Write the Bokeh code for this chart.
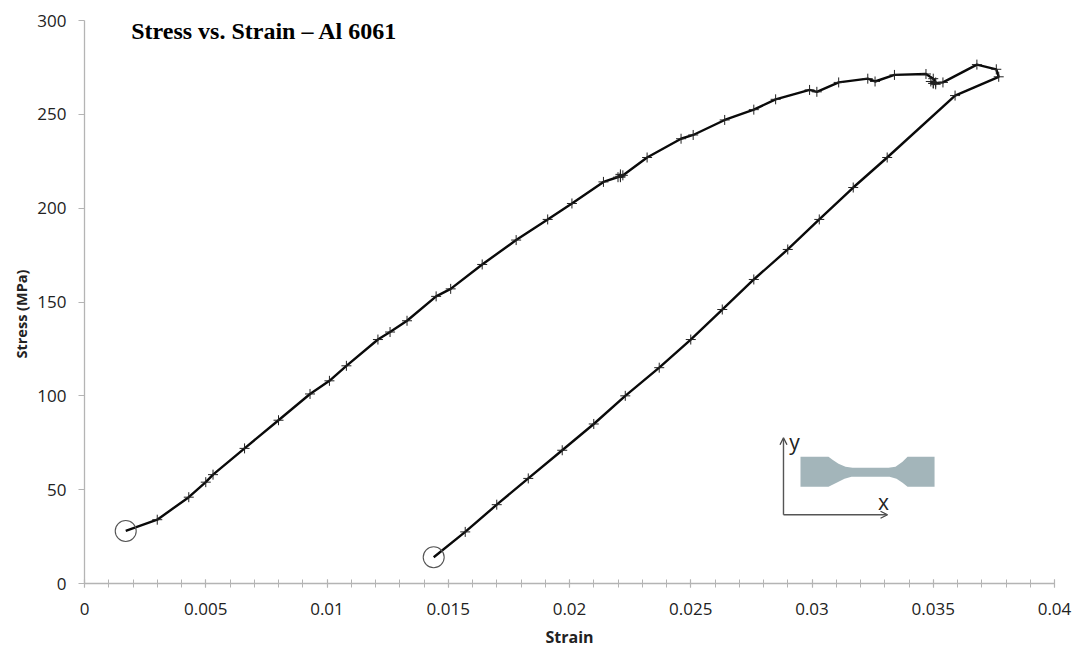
from bokeh.plotting import figure
from bokeh.embed import file_html
from bokeh.resources import INLINE
from bokeh.models import Arrow, OpenHead, Label, Range1d, FixedTicker, CustomJSTickFormatter, Title

strain = [0.0017,0.0030,0.0043,0.0050,0.0053,0.0066,0.0080,0.0093,0.0101,0.0108,0.0121,0.0126,0.0133,
          0.0145,0.0151,0.0164,0.0178,0.0191,0.0201,0.0214,0.0221,0.0221,0.0220,0.0222,0.0221,0.0232,0.0246,0.0251,
          0.0264,0.0276,0.0285,0.0299,0.0302,0.0311,0.0323,0.0326,0.0334,0.0347,0.0350,0.0351,0.0350,0.0349,0.0351,0.0350,
          0.0354,0.0368,0.0376,0.0377,0.0359,0.0331,0.0317,0.0303,0.0290,0.0276,0.0263,0.0250,
          0.0237,0.0223,0.0210,0.0197,0.0183,0.0170,0.0157,0.0144]
stress = [28,34,46,54,58,72,87,101,108,116,130,134,140,153,157,170,183,194,202.5,214,217,218,216.5,217.5,216.5,227,
          237,239,247,252.5,258,263,262,267,269,267.5,271,271.5,269,267,266.5,267.5,266,266.5,267,276.5,274,270,260,
          227,211,194,178,162,146,130,115,100,85,71,56,42,27.5,14]
end_strain = [0.0017,0.0144]
end_stress = [28,14]
x_ticks = [0,0.005,0.01,0.015,0.02,0.025,0.03,0.035,0.04]
y_ticks = [0,50,100,150,200,250,300]

X0, XS = 84.3, 24240.0
Y0, YS = 582.7, 1.8757
def dx(px): return (px - X0) / XS
def dy(py): return (Y0 - py) / YS

p = figure(frame_width=970, frame_height=563, output_backend="svg", toolbar_location=None,
           x_range=Range1d(0, 0.04), y_range=Range1d(0, 300),
           min_border_left=84, min_border_right=20, min_border_top=20, min_border_bottom=63,
           margin=(0, -8, -8, 0), outline_line_color=None)
p.grid.visible = False
AX = "#b4b4b4"
TXT = "#222222"
for ax in (p.xaxis[0], p.yaxis[0]):
    ax.axis_line_color = AX
    ax.axis_line_width = 1.3
    ax.major_tick_line_color = AX
    ax.major_tick_line_width = 1.2
    ax.minor_tick_line_color = AX
    ax.major_label_text_font = "Open Sans"
    ax.major_label_text_font_size = "17px"
    ax.major_label_text_color = TXT
    ax.axis_label_text_font = "Open Sans"
    ax.axis_label_text_font_size = "16px"
    ax.axis_label_text_font_style = "bold"
    ax.axis_label_text_color = TXT
p.xaxis.ticker = FixedTicker(ticks=x_ticks, minor_ticks=[i / 1000 for i in range(41)])
p.yaxis.ticker = FixedTicker(ticks=y_ticks)
p.xaxis.formatter = CustomJSTickFormatter(code="return String(tick)")
p.xaxis.major_tick_in = 4
p.xaxis.major_tick_out = 4
p.xaxis.minor_tick_in = 4
p.xaxis.minor_tick_out = 4
p.xaxis.major_label_standoff = 15
p.yaxis.major_tick_in = 0
p.yaxis.major_tick_out = 6
p.yaxis.minor_tick_line_color = None
p.yaxis.major_label_standoff = 12
p.xaxis.axis_label = "Strain"
p.xaxis.axis_label_standoff = 8

p.line(strain, stress, line_color="#0a0a0a", line_width=2.4)
p.scatter(strain[1:-1], stress[1:-1], marker="cross", size=10, line_color="#222222", line_width=1)
p.scatter(end_strain, end_stress, marker="circle", size=21, fill_color=None, line_color="#555555", line_width=1.1)

p.add_layout(Title(text="Stress (MPa)", align="left", offset=225, text_font="Open Sans", text_font_size="14.5px",
                   text_font_style="bold", text_color=TXT, standoff=8), "left")
p.add_layout(Label(x=dx(131), y=dy(30), text="Stress vs. Strain \u2013 Al 6061", text_font="Liberation Serif",
                   text_font_size="24px", text_font_style="bold", text_color="black", text_baseline="middle"))

# inset specimen sketch, outline given in page pixels
spec_px = [800,828,832,838,845,852,888,895,902,907,934,934,907,902,896,889,851,844,838,828,800]
spec_py = [456,456,459,463,466,467,467,466,461,456,456,486,486,482,478,476,476,478,481,486,486]
p.patch([dx(v) for v in spec_px], [dy(v) for v in spec_py], fill_color="#a3b5ba", line_color=None)
for (a, b, c, d) in [(783, 514, 783, 437), (783, 514, 887, 514)]:
    p.add_layout(Arrow(end=OpenHead(size=7, line_color="#444444", line_width=1.3), x_start=dx(a), y_start=dy(b),
                       x_end=dx(c), y_end=dy(d), line_color="#555555", line_width=1.4))
p.add_layout(Label(x=dx(794), y=dy(441), text="y", text_font="Open Sans", text_font_size="21px", text_color="#222222",
                   text_align="center", text_baseline="middle"))
p.add_layout(Label(x=dx(883), y=dy(501), text="x", text_font="Open Sans", text_font_size="21px", text_color="#222222",
                   text_align="center", text_baseline="middle"))

open("out.html", "w").write(file_html(p, INLINE))
